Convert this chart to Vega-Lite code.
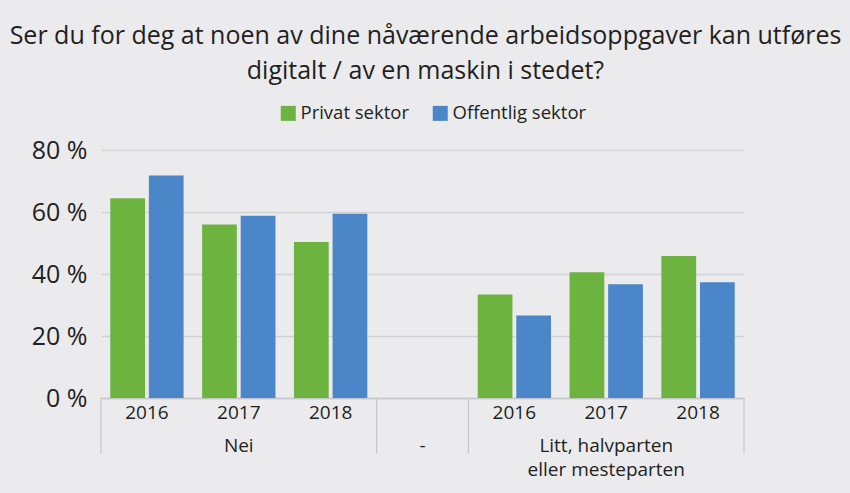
{
  "$schema": "https://vega.github.io/schema/vega-lite/v6.json",
  "width": 643,
  "height": 248,
  "autosize": {"type": "none"},
  "padding": {"left": 101, "top": 150, "right": 106, "bottom": 95},
  "background": "#ebebed",
  "title": {
    "text": ["Ser du for deg at noen av dine nåværende arbeidsoppgaver kan utføres", "digitalt / av en maskin i stedet?"],
    "fontSize": 25,
    "font": "Open Sans",
    "fontWeight": "normal",
    "color": "#231f20",
    "lineHeight": 35,
    "anchor": "middle",
    "offset": 20,
    "dx": 3
  },
  "config": {"view": {"stroke": null}, "font": "Open Sans"},
  "datasets": {
    "bars": [
      {"key": "Nei|2016", "sektor": "Privat sektor", "pct": 64.4},
      {"key": "Nei|2016", "sektor": "Offentlig sektor", "pct": 71.8},
      {"key": "Nei|2017", "sektor": "Privat sektor", "pct": 56.0},
      {"key": "Nei|2017", "sektor": "Offentlig sektor", "pct": 58.8},
      {"key": "Nei|2018", "sektor": "Privat sektor", "pct": 50.3},
      {"key": "Nei|2018", "sektor": "Offentlig sektor", "pct": 59.4},
      {"key": "Litt|2016", "sektor": "Privat sektor", "pct": 33.4},
      {"key": "Litt|2016", "sektor": "Offentlig sektor", "pct": 26.6},
      {"key": "Litt|2017", "sektor": "Privat sektor", "pct": 40.6},
      {"key": "Litt|2017", "sektor": "Offentlig sektor", "pct": 36.7},
      {"key": "Litt|2018", "sektor": "Privat sektor", "pct": 45.8},
      {"key": "Litt|2018", "sektor": "Offentlig sektor", "pct": 37.3}
    ],
    "groupStarts": [
      {"key": "Nei|2016"},
      {"key": "-"},
      {"key": "Litt|2016"}
    ],
    "groupEnds": [
      {"key": "Litt|2018"}
    ]
  },
  "layer": [
    {
      "data": {"name": "bars"},
      "mark": {"type": "bar"},
      "encoding": {
        "x": {
          "field": "key",
          "type": "nominal",
          "scale": {"domain": ["Nei|2016", "Nei|2017", "Nei|2018", "-", "Litt|2016", "Litt|2017", "Litt|2018"], "paddingInner": 0, "paddingOuter": 0},
          "axis": {
            "title": null,
            "labelExpr": "datum.value == '-' ? '' : split(datum.value, '|')[1]",
            "labelAngle": 0,
            "labelFontSize": 19,
            "labelColor": "#231f20",
            "labelPadding": 5,
            "ticks": false,
            "domainColor": "#c6c6ca",
            "domainWidth": 1.5,
            "grid": false,
            "labelOverlap": false
          }
        },
        "xOffset": {
          "field": "sektor",
          "type": "nominal",
          "scale": {"domain": ["Privat sektor", "Offentlig sektor"], "paddingInner": 0.1, "paddingOuter": 0.24}
        },
        "y": {
          "field": "pct",
          "type": "quantitative",
          "scale": {"domain": [0, 80]},
          "axis": {
            "title": null,
            "values": [0, 20, 40, 60, 80],
            "labelExpr": "datum.value + ' %'",
            "labelFontSize": 25,
            "labelColor": "#231f20",
            "domain": false,
            "ticks": false,
            "labelPadding": 14,
            "gridColor": "#d2d2d6",
            "gridWidth": 1.5
          }
        },
        "color": {
          "field": "sektor",
          "type": "nominal",
          "scale": {"domain": ["Privat sektor", "Offentlig sektor"], "range": ["#6db33f", "#4a86c8"]},
          "legend": {
            "title": null,
            "orient": "none",
            "legendX": 178,
            "legendY": -46,
            "direction": "horizontal",
            "symbolType": "square",
            "symbolSize": 225,
            "symbolStrokeWidth": 0,
            "labelFontSize": 18.5,
            "labelColor": "#231f20",
            "labelOffset": 3,
            "columnPadding": 22,
            "padding": 0
          }
        }
      }
    },
    {
      "data": {"name": "bars"},
      "mark": {"type": "bar", "opacity": 0},
      "encoding": {
        "x": {
          "field": "key",
          "type": "nominal",
          "scale": {"domain": ["Nei|2016", "Nei|2017", "Nei|2018", "-", "Litt|2016", "Litt|2017", "Litt|2018"], "paddingInner": 0, "paddingOuter": 0},
          "axis": {
            "orient": "bottom",
            "title": null,
            "domain": false,
            "grid": false,
            "ticks": false,
            "labelAngle": 0,
            "labelExpr": "datum.value == 'Nei|2017' ? 'Nei' : datum.value == '-' ? '-' : datum.value == 'Litt|2017' ? ['Litt, halvparten', 'eller mesteparten'] : ''",
            "labelLineHeight": 24,
            "labelFontSize": 19,
            "labelColor": "#231f20",
            "labelOverlap": false,
            "labelPadding": 38
          }
        }
      }
    },
    {
      "data": {"name": "groupStarts"},
      "mark": {"type": "rule", "color": "#c6c6ca", "strokeWidth": 1.2, "clip": false},
      "encoding": {
        "x": {"field": "key", "type": "nominal", "bandPosition": 0, "axis": null},
        "y": {"datum": 0},
        "y2": {"datum": -18}
      }
    },
    {
      "data": {"name": "groupEnds"},
      "mark": {"type": "rule", "color": "#c6c6ca", "strokeWidth": 1.2, "clip": false},
      "encoding": {
        "x": {"field": "key", "type": "nominal", "bandPosition": 1, "axis": null},
        "y": {"datum": 0},
        "y2": {"datum": -18}
      }
    }
  ],
  "resolve": {"axis": {"x": "independent"}}
}
